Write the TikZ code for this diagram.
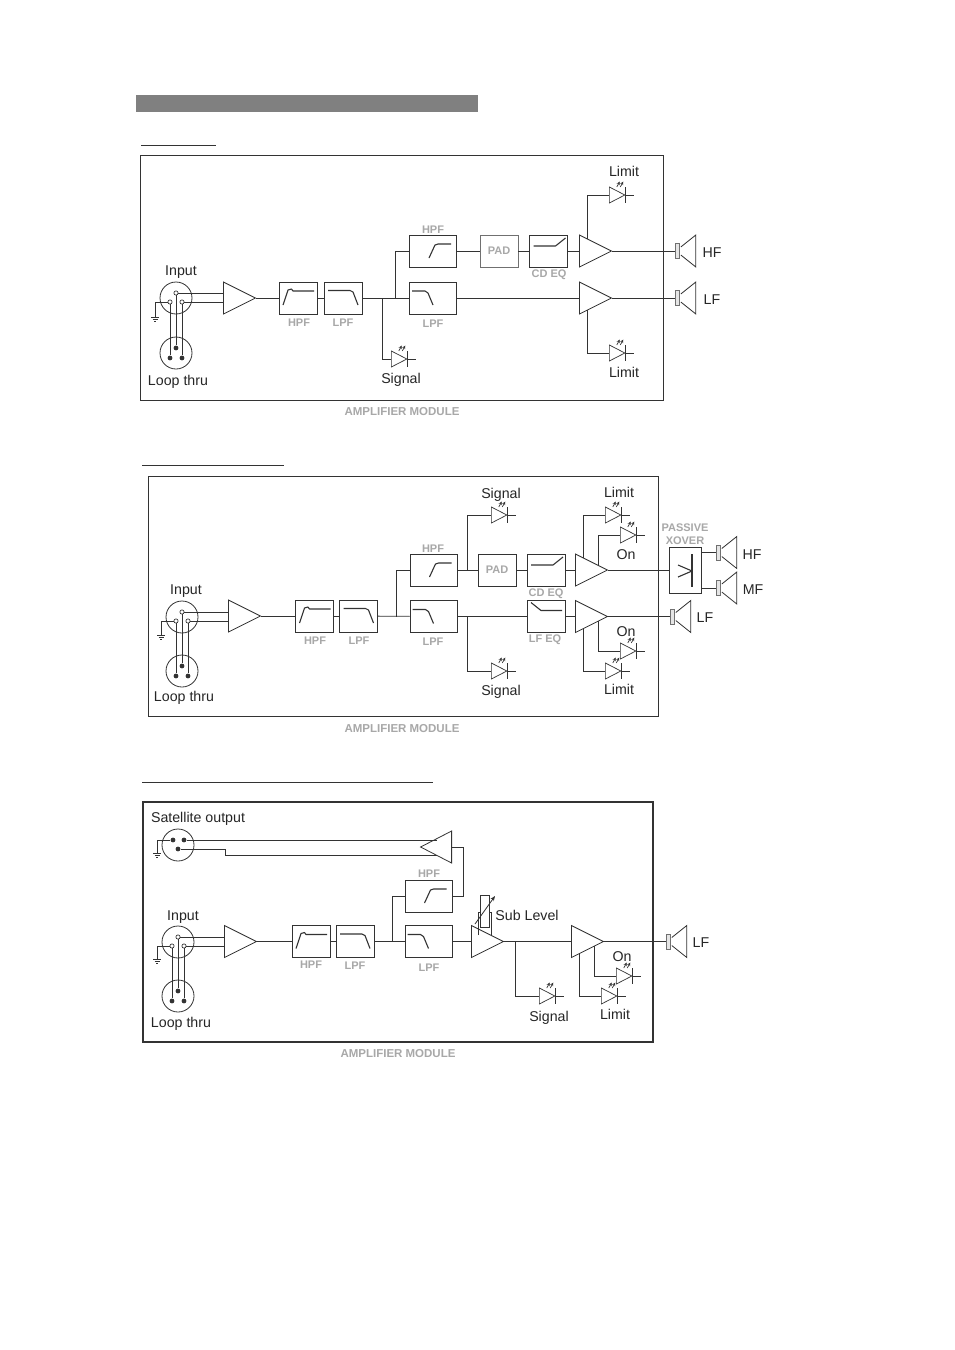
\documentclass[tikz,border=0pt]{standalone}
\usepackage{fontspec}
\setmainfont{Liberation Sans}
\usetikzlibrary{shapes.geometric,arrows.meta,calc}
\definecolor{ln}{HTML}{333333}
\definecolor{lb}{HTML}{A8A8A8}
\tikzset{
 wire/.style={draw=ln,line width=0.8pt},
 panel/.style={draw=ln,line width=1pt},
 fbox/.style={draw=ln,line width=0.8pt,rectangle,inner sep=0pt,minimum height=32pt},
 smallf/.style={fbox,minimum width=38pt},
 widef/.style={fbox,minimum width=47pt},
 curve/.style={draw=ln,line width=1.1pt,line join=round},
 amptri/.style={draw=ln,line width=0.8pt,isosceles triangle,isosceles triangle stretches,shape border rotate=0,minimum width=32pt,minimum height=32pt,inner sep=0pt,anchor=lower side},
 ledtri/.style={draw=ln,line width=0.7pt,isosceles triangle,isosceles triangle stretches,shape border rotate=0,minimum width=16pt,minimum height=15.5pt,inner sep=0pt,anchor=lower side},
 txt/.style={font=\fontsize{14.2}{14.2}\selectfont,text=black!85,inner sep=0pt,yshift=-1.5pt},
 sm/.style={font=\fontsize{11}{11}\selectfont\bfseries,text=lb,inner sep=0pt,yshift=-1pt},
 conn/.style={draw=ln,line width=0.8pt,circle,inner sep=0pt,minimum size=32pt},
 pino/.style={draw=ln,line width=0.7pt,circle,fill=white,inner sep=0pt,minimum size=4.2pt},
 pinf/.style={circle,fill=ln,inner sep=0pt,minimum size=4.8pt},
 spkr/.style={draw=ln!70,line width=0.8pt,fill=black!10,rectangle,inner sep=0pt,minimum width=4pt,minimum height=15pt,anchor=west},
}
% amp: name x y
\newcommand{\ampx}[3]{\node[amptri] (#1) at (#2,#3) {};
 \coordinate (#1u1) at ($(#1.lower side)+(8,-12)$);
 \coordinate (#1d1) at ($(#1.lower side)+(8,12)$);
 \coordinate (#1u2) at ($(#1.lower side)+(23,-4.5)$);
 \coordinate (#1d2) at ($(#1.lower side)+(23,4.5)$);}
% led: name x y
\newcommand{\ledx}[3]{\node[ledtri] (#1) at (#2,#3) {};
 \draw[wire] ($(#1.apex)+(0,-8)$) -- ($(#1.apex)+(0,8)$);
 \draw[wire] (#1.apex) -- +(8.5,0);
 \draw[ln,line width=0.7pt,-{Stealth[length=3.4pt,width=3.4pt]}] ($(#1.apex)+(-9,-8)$) -- +(3,-5.4);
 \draw[ln,line width=0.7pt,-{Stealth[length=3.4pt,width=3.4pt]}] ($(#1.apex)+(-5.5,-8)$) -- +(3,-5.4);}
% speaker: name x y
\newcommand{\spkx}[3]{\node[spkr] (#1) at (#2,#3) {};
 \draw[wire,line join=miter] ($(#1.east)+(1,-4)$) -- ($(#1.east)+(16,-16)$) -- ($(#1.east)+(16,16)$) -- ($(#1.east)+(1,4)$);}
% ground
\newcommand{\gndx}[3]{\coordinate (#1) at (#2,#3);
 \draw[ln,line width=0.6pt] ($(#1)+(-4,0)$) -- +(8,0) ($(#1)+(-2.5,2)$) -- +(5,0) ($(#1)+(-1,4)$) -- +(2,0);}
% input + loop connector set: prefix, x, y (input), y (loop)
\newcommand{\xlrset}[5]{%
 \node[conn] (#1c) at (#2,#3) {};
 \node[conn] (#1l) at (#2,#4) {};
 \node[pino] (#1t) at (#2,#3-5) {};
 \node[pino] (#1a) at (#2-6,#3+4) {};
 \node[pino] (#1b) at (#2+6,#3+4) {};
 \node[pinf] (#1x) at (#2,#4-5) {};
 \node[pinf] (#1y) at (#2-6,#4+5) {};
 \node[pinf] (#1z) at (#2+6,#4+5) {};
 \draw[wire] (#1t) -- (#1x) (#1a) -- (#1y) (#1b) -- (#1z);
 \draw[wire] (#1t) -- (#1t -| #5.lower side);
 \draw[wire] (#1b) -- (#1b -| #5.lower side);}
\newcommand{\hpfc}[1]{\draw[curve] ($(#1)+(-15,7)$) -- ($(#1)+(-10,-8)$) -- ($(#1)+(-6.5,-9)$) -- ($(#1)+(-5,-7)$) -- ($(#1)+(16,-7)$);}
\newcommand{\lpfc}[1]{\draw[curve] ($(#1)+(-15,-7.5)$) -- ($(#1)+(7,-7.5)$) -- ($(#1)+(10,-6)$) -- ($(#1)+(15,7)$);}
\newcommand{\hpfw}[1]{\draw[curve] ($(#1)+(-4,7)$) -- ($(#1)+(2,-6)$) -- ($(#1)+(5,-7)$) -- ($(#1)+(18,-7)$);}
\newcommand{\lpfw}[1]{\draw[curve] ($(#1)+(-21,-7)$) -- ($(#1)+(-8,-7)$) -- ($(#1)+(-5,-5)$) -- ($(#1)+(0,7)$);}
\newcommand{\cdeq}[1]{\draw[curve] ($(#1)+(-15,-5)$) -- ($(#1)+(7,-5)$) -- ($(#1)+(17,-13)$);}
\newcommand{\lfeq}[1]{\draw[curve] ($(#1)+(-15,-14)$) -- ($(#1)+(-5,-6)$) -- ($(#1)+(16,-6)$);}
\begin{document}
\begin{tikzpicture}[x=1pt,y=-1pt]
\useasboundingbox (0,0) rectangle (954,1350);
\fill[white] (0,0) rectangle (954,1350);
\node[rectangle,fill=black!50,inner sep=0pt,minimum width=342pt,minimum height=17pt] (bar) at (307,103.5) {};
%====================== PANEL 1
\coordinate (t1a) at (141,145); \coordinate (t1b) at (216,145);
\draw[wire] (t1a) -- (t1b);
\node[panel,rectangle,inner sep=0pt,minimum width=523pt,minimum height=245pt] (p1) at (401.5,277.5) {};
\ampx{a1}{223}{298}
\xlrset{A}{176}{298}{353}{a1}
\node[txt] (A1) at (181,271) {Input};
\node[txt] (A2) at (178,380) {Loop thru};
\gndx{Ag}{155}{317}
\draw[wire] (Aa) -| (Ag);
\node[smallf] (a2) at (298,298) {}; \hpfc{a2}
\node[smallf] (a3) at (343,298) {}; \lpfc{a3}
\node[sm] (a2l) at (299,322) {HPF};
\node[sm] (a3l) at (343,322) {LPF};
\node[widef] (a4) at (433,251) {}; \hpfw{a4}
\node[widef] (a5) at (433,298) {}; \lpfw{a5}
\node[sm] (a4l) at (433,229) {HPF};
\node[sm] (a5l) at (433,323) {LPF};
\node[smallf,draw=ln!70] (a6) at (499,251) {\fontsize{11}{11}\selectfont\bfseries\color{lb}PAD};
\node[smallf] (a7) at (548.5,251) {}; \cdeq{a7}
\node[sm] (a7l) at (549,274) {CD EQ};
\ampx{a8}{579}{251}
\ampx{a9}{579}{298}
\spkx{a10}{675}{251}
\spkx{a11}{675}{298}
\node[txt] (a10l) at (712,251) {HF};
\node[txt] (a11l) at (712,298) {LF};
\ledx{a12}{609}{195}
\ledx{a13}{609}{353}
\ledx{a14}{391}{359}
\node[txt] (a12l) at (624,170) {Limit};
\node[txt] (a13l) at (624,371) {Limit};
\node[txt] (a14l) at (401,378) {Signal};
\node[sm,font=\fontsize{11.5}{11.5}\selectfont\bfseries] (a15) at (402,411) {AMPLIFIER MODULE};
\coordinate (aj1) at (382,298); \coordinate (aj2) at (395,298);
\draw[wire] (a1.apex) -- (a2);
\draw[wire] (a2) -- (a3);
\draw[wire] (a3) -- (a5);
\draw[wire] (aj2) |- (a4);
\draw[wire] (aj1) |- (a14.lower side);
\draw[wire] (a4) -- (a6);
\draw[wire] (a6) -- (a7);
\draw[wire] (a7) -- (a8.lower side);
\draw[wire] (a5) -- (a9.lower side);
\draw[wire] (a8.apex) -- (a10);
\draw[wire] (a9.apex) -- (a11);
\draw[wire] (a8u1) |- (a12.lower side);
\draw[wire] (a9d1) |- (a13.lower side);
%====================== PANEL 2
\coordinate (t2a) at (142,465); \coordinate (t2b) at (284,465);
\draw[wire] (t2a) -- (t2b);
\node[panel,rectangle,inner sep=0pt,minimum width=510pt,minimum height=240pt] (p2) at (403,596) {};
\ampx{b1}{228}{616}
\xlrset{B}{182}{617}{671}{b1}
\node[txt] (B1) at (186,590) {Input};
\node[txt] (B2) at (184,696) {Loop thru};
\gndx{Bg}{161}{635}
\draw[wire] (Ba) -| (Bg);
\node[smallf] (b2) at (314.5,616) {}; \hpfc{b2}
\node[smallf] (b3) at (358.5,616) {}; \lpfc{b3}
\node[sm] (b2l) at (315,640) {HPF};
\node[sm] (b3l) at (359,640) {LPF};
\node[widef] (b4) at (433.5,570) {}; \hpfw{b4}
\node[widef] (b5) at (433.5,616.5) {}; \lpfw{b5}
\node[sm] (b4l) at (433,548) {HPF};
\node[sm] (b5l) at (433,641) {LPF};
\node[smallf] (b6) at (497,570) {\fontsize{11}{11}\selectfont\bfseries\color{lb}PAD};
\node[smallf] (b7) at (546,570) {}; \cdeq{b7}
\node[smallf] (b8) at (546,616.5) {}; \lfeq{b8}
\node[sm] (b7l) at (546,593) {CD EQ};
\node[sm] (b8l) at (545,639) {LF EQ};
\ampx{b9}{575}{570}
\ampx{b10}{575}{616.5}
\node[fbox,minimum width=32pt,minimum height=46pt] (b11) at (685,570) {};
\draw[curve] (692,554) -- (692,587);
\draw[curve] (678,565) -- (692,571) -- (678,577);
\node[sm] (b11a) at (685,527) {PASSIVE};
\node[sm] (b11b) at (685,540) {XOVER};
\spkx{b12}{716}{552.5}
\spkx{b13}{716}{588}
\spkx{b14}{670}{616.5}
\node[txt] (b12l) at (752,553) {HF};
\node[txt] (b13l) at (753,588) {MF};
\node[txt] (b14l) at (705,616.5) {LF};
\ledx{b15}{491}{515}
\ledx{b16}{491}{671}
\ledx{b17}{605}{515}
\ledx{b18}{620}{535}
\ledx{b19}{620}{651}
\ledx{b20}{605}{671}
\node[txt] (b15l) at (501,493) {Signal};
\node[txt] (b16l) at (501,690) {Signal};
\node[txt] (b17l) at (619,491) {Limit};
\node[txt] (b18l) at (626,553) {On};
\node[txt] (b19l) at (626,630) {On};
\node[txt] (b20l) at (619,688) {Limit};
\node[sm,font=\fontsize{11.5}{11.5}\selectfont\bfseries] (b21) at (402,728) {AMPLIFIER MODULE};
\coordinate (bj1) at (396,616.5); \coordinate (bj2) at (467,570); \coordinate (bj3) at (467,616.5);
\draw[wire] (b1.apex) -- (b2);
\draw[wire] (b2) -- (b3);
\draw[wire] (b3) -- (b5);
\draw[wire] (bj1) |- (b4);
\draw[wire] (b4) -- (b6);
\draw[wire] (b6) -- (b7);
\draw[wire] (b7) -- (b9.lower side);
\draw[wire] (b5) -- (b8);
\draw[wire] (b8) -- (b10.lower side);
\draw[wire] (b9.apex) -- (b11);
\draw[wire] (b10.apex) -- (b14);
\draw[wire] (b11.east |- b12) -- (b12);
\draw[wire] (b11.east |- b13) -- (b13);
\draw[wire] (bj2) |- (b15.lower side);
\draw[wire] (bj3) |- (b16.lower side);
\draw[wire] (b9u1) |- (b17.lower side);
\draw[wire] (b9u2) |- (b18.lower side);
\draw[wire] (b10d2) |- (b19.lower side);
\draw[wire] (b10d1) |- (b20.lower side);
%====================== PANEL 3
\coordinate (t3a) at (142,782); \coordinate (t3b) at (433,782);
\draw[wire] (t3a) -- (t3b);
\node[panel,rectangle,inner sep=0pt,minimum width=510pt,minimum height=240pt,line width=1.5pt] (p3) at (398,922) {};
\node[txt] (c0) at (198,817) {Satellite output};
\node[conn] (Sc) at (178,845) {};
\node[pinf] (Sa) at (173,840) {};
\node[pinf] (Sb) at (184,840) {};
\node[pinf] (Sm) at (178,849) {};
\gndx{Sg}{157}{853}
\draw[wire] (Sa) -| (Sg);
\node[draw=ln,line width=0.8pt,isosceles triangle,isosceles triangle stretches,shape border rotate=180,minimum width=32pt,minimum height=31pt,inner sep=0pt,anchor=lower side] (c1) at (452,847) {};
\coordinate (ctu) at (437,840); \coordinate (ctd) at (437,855);
\coordinate (cs1) at (225,849); \coordinate (cs2) at (225,855);
\draw[wire] (Sb) -- (ctu);
\draw[wire] (Sm) -- (cs1) -- (cs2) -- (ctd);
\ampx{c2}{224}{941.5}
\xlrset{C}{178}{942}{996}{c2}
\node[txt] (C1) at (183,916) {Input};
\node[txt] (C2) at (181,1022) {Loop thru};
\gndx{Cg}{157}{959}
\draw[wire] (Ca) -| (Cg);
\node[smallf] (c3) at (311,941.5) {}; \hpfc{c3}
\node[smallf] (c4) at (355,941.5) {}; \lpfc{c4}
\node[sm] (c3l) at (311,964) {HPF};
\node[sm] (c4l) at (355,965) {LPF};
\node[widef] (c5) at (428.5,896) {}; \hpfw{c5}
\node[widef] (c6) at (428.5,941.5) {}; \lpfw{c6}
\node[sm] (c5l) at (429,873) {HPF};
\node[sm] (c6l) at (429,967) {LPF};
\ampx{c7}{471}{941.5}
\ampx{c8}{571}{941.5}
\spkx{c9}{666}{941.5}
\node[txt] (c9l) at (701,941.5) {LF};
\node[draw=ln,line width=0.8pt,rectangle,inner sep=0pt,minimum width=9pt,minimum height=32pt] (c10) at (484.5,911) {};
\draw[wire] (478,935) -- (478,912) -- (480,912);
\draw[wire] (491,936) -- (491,912) -- (489,912);
\coordinate (c10a) at (475,924); \coordinate (c10b) at (495,896);
\draw[ln,line width=0.8pt,-{Stealth[length=5pt,width=4pt]}] (c10a) -- (c10b);
\node[txt] (c10l) at (527,914) {Sub Level};
\ledx{c11}{539}{996}
\ledx{c12}{616}{976}
\ledx{c13}{601}{996}
\node[txt] (c11l) at (549,1016) {Signal};
\node[txt] (c12l) at (622,955) {On};
\node[txt] (c13l) at (615,1013) {Limit};
\node[sm,font=\fontsize{11.5}{11.5}\selectfont\bfseries] (c14) at (398,1053) {AMPLIFIER MODULE};
\coordinate (cj1) at (392,941.5); \coordinate (cj2) at (515,941.5); \coordinate (cj3) at (463,895);
\draw[wire] (c2.apex) -- (c3);
\draw[wire] (c3) -- (c4);
\draw[wire] (c4) -- (c6);
\draw[wire] (cj1) |- (c5);
\draw[wire] (c5) -| (cj3);
\draw[wire] (cj3) |- (c1.lower side);
\draw[wire] (c6) -- (c7.lower side);
\draw[wire] (c7.apex) -- (c8.lower side);
\draw[wire] (c8.apex) -- (c9);
\draw[wire] (cj2) |- (c11.lower side);
\draw[wire] (c8d2) |- (c12.lower side);
\draw[wire] (c8d1) |- (c13.lower side);
\end{tikzpicture}
\end{document}
